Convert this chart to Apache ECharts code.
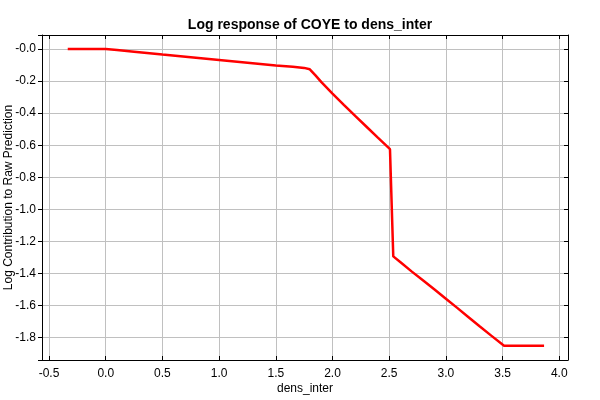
<!DOCTYPE html>
<html>
<head>
<meta charset="utf-8">
<script src="https://cdn.jsdelivr.net/npm/echarts@6/dist/echarts.min.js"></script>
<style>html,body{margin:0;padding:0;background:#fff;}#c{width:600px;height:400px;}</style>
</head>
<body>
<div id="c"></div>
<script>
var titleText = 'Log response of COYE to dens_inter';
var xName = 'dens_inter';
var yName = 'Log Contribution to Raw Prediction';

var xValues = [-0.335, -0.2, -0.1, 0.0, 0.1, 0.25, 0.5, 0.75, 1.0, 1.25, 1.5, 1.65, 1.75, 1.80, 1.85, 1.9, 2.0, 2.1, 2.2, 2.3, 2.4, 2.47, 2.507, 2.515, 2.536, 2.6, 2.7, 2.8, 2.9, 3.0, 3.1, 3.2, 3.3, 3.4, 3.513, 3.6, 3.7, 3.8, 3.866];
var yValues = [0, 0, 0, 0, -0.006, -0.017, -0.035, -0.052, -0.069, -0.086, -0.103, -0.111, -0.118, -0.127, -0.165, -0.205, -0.278, -0.348, -0.417, -0.485, -0.553, -0.6, -0.625, -0.632, -1.293, -1.33, -1.388, -1.444, -1.5, -1.557, -1.614, -1.672, -1.73, -1.787, -1.85, -1.85, -1.85, -1.85, -1.85];

var xMin = -0.562, xMax = 4.077;
var yMin = -1.939, yMax = 0.087;

var pts = xValues.map(function (x, i) { return [x, yValues[i]]; });

function isMult(v, step) {
  var r = v / step;
  return Math.abs(r - Math.round(r)) < 1e-6;
}
function xFmt(v) { return isMult(v, 0.5) ? v.toFixed(1) : ''; }
function yFmt(v) {
  if (!isMult(v, 0.2)) return '';
  if (Math.abs(v) < 1e-9) return '-0.0';
  return v.toFixed(1);
}

var FONT = 'Liberation Sans';
var chart = echarts.init(document.getElementById('c'), null, {renderer: 'canvas'});
chart.setOption({
  animation: false,
  backgroundColor: '#ffffff',
  title: {
    text: titleText,
    left: 305,
    top: 13,
    textAlign: 'center',
    textStyle: {fontFamily: FONT, fontSize: 14, fontWeight: 'bold', color: '#000'}
  },
  grid: {left: 42, right: 32, top: 35, bottom: 40, containLabel: false, outerBoundsMode: 'none'},
  xAxis: [{
    type: 'value', min: xMin, max: xMax, splitNumber: 9,
    name: xName, nameLocation: 'middle', nameGap: 23, nameMoveOverlap: false,
    nameTextStyle: {fontFamily: FONT, fontSize: 12, color: '#000'},
    axisLine: {show: true, onZero: false, lineStyle: {color: '#000', width: 1}},
    axisTick: {show: true, inside: true, length: 4, lineStyle: {color: '#000'}},
    axisLabel: {formatter: xFmt, margin: 8, fontFamily: FONT, fontSize: 12, color: '#000'},
    splitLine: {show: true, lineStyle: {color: '#c0c0c0', width: 1}}
  }, {
    type: 'value', position: 'top', min: xMin, max: xMax, splitNumber: 9,
    axisLine: {show: true, onZero: false, lineStyle: {color: '#000', width: 1}},
    axisTick: {show: true, inside: true, length: 4, lineStyle: {color: '#000'}},
    axisLabel: {show: false},
    splitLine: {show: false}
  }],
  yAxis: [{
    type: 'value', min: yMin, max: yMax, splitNumber: 10,
    name: yName, nameLocation: 'middle', nameGap: 27, nameRotate: 90, nameMoveOverlap: false,
    nameTextStyle: {fontFamily: FONT, fontSize: 12, color: '#000'},
    axisLine: {show: true, onZero: false, lineStyle: {color: '#000', width: 1}},
    axisTick: {show: true, inside: false, length: 4, lineStyle: {color: '#000'}},
    axisLabel: {formatter: yFmt, margin: 6, fontFamily: FONT, fontSize: 12, color: '#000'},
    splitLine: {show: true, lineStyle: {color: '#c0c0c0', width: 1}}
  }, {
    type: 'value', position: 'right', min: yMin, max: yMax, splitNumber: 10,
    axisLine: {show: true, onZero: false, lineStyle: {color: '#000', width: 1}},
    axisTick: {show: true, inside: true, length: 4, lineStyle: {color: '#000'}},
    axisLabel: {show: false},
    splitLine: {show: false}
  }],
  series: [{
    type: 'line',
    xAxisIndex: 0, yAxisIndex: 0,
    data: pts,
    showSymbol: false,
    symbol: 'none',
    lineStyle: {color: '#ff0000', width: 2.5},
    z: 5
  }]
});
</script>
</body>
</html>
